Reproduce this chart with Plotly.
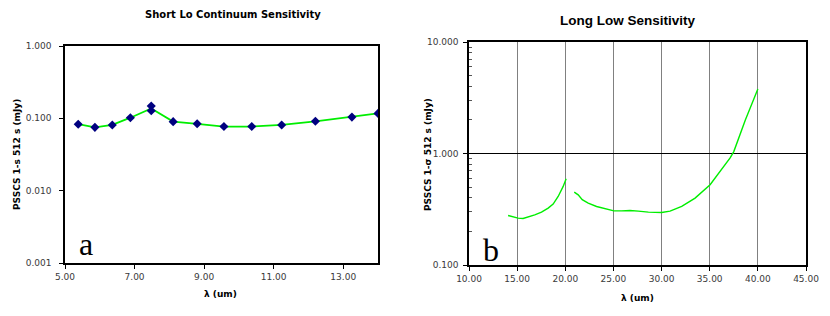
import plotly.graph_objects as go

W, H = 830, 316

# ---- data: left panel (Short Lo continuum) ----
sl_wave = [5.38, 5.86, 6.36, 6.88, 7.48, 7.48, 8.11, 8.80, 9.57, 10.37, 11.23, 12.20, 13.25, 14.0]
sl_sens = [0.083, 0.075, 0.081, 0.102, 0.148, 0.127, 0.090, 0.084, 0.077, 0.077, 0.081, 0.091, 0.104, 0.117]
sl_line_wave = [5.38, 5.86, 6.36, 6.88, 7.48, 8.11, 8.80, 9.57, 10.37, 11.23, 12.20, 13.25, 14.0]
sl_line_sens = [0.083, 0.075, 0.081, 0.102, 0.137, 0.090, 0.084, 0.077, 0.077, 0.081, 0.091, 0.104, 0.117]

# ---- data: right panel (Long Low) ----
ll1_wave = [14.06, 14.58, 15.10, 15.62, 16.14, 16.83, 17.53, 18.22, 18.74, 19.26, 19.78, 20.09]
ll1_sens = [0.278, 0.270, 0.263, 0.261, 0.268, 0.282, 0.298, 0.324, 0.352, 0.412, 0.507, 0.594]
ll2_wave = [20.93, 21.34, 21.76, 22.38, 23.25, 24.12, 25.05, 25.85, 26.72, 27.59, 28.63, 30.01,
            30.88, 32.09, 33.48, 35.04, 36.08, 37.12, 37.5, 38.7, 40.0]
ll2_sens = [0.451, 0.426, 0.385, 0.359, 0.335, 0.319, 0.306, 0.306, 0.308, 0.304, 0.298, 0.296,
            0.304, 0.335, 0.398, 0.525, 0.692, 0.912, 1.04, 2.0, 3.79]

left_xticks = [5, 7, 9, 11, 13]
left_xtext = ["5.00", "7.00", "9.00", "11.00", "13.00"]
left_yticks = [0.001, 0.01, 0.1, 1]
left_ytext = ["0.001", "0.010", "0.100", "1.000"]
right_xticks = [10, 15, 20, 25, 30, 35, 40, 45]
right_xtext = ["10.00", "15.00", "20.00", "25.00", "30.00", "35.00", "40.00", "45.00"]
right_yticks = [0.1, 1, 10]
right_ytext = ["0.100", "1.000", "10.000"]

GREEN = "#00ee00"
NAVY = "#000080"
TXT = "#3a3a3a"
FONT = "DejaVu Sans, Liberation Sans, sans-serif"
FONT2 = "Liberation Sans, Arial, sans-serif"

def px_x(p):
    return p / W

def px_y(p):
    return 1 - p / H

fig = go.Figure()

fig.add_trace(go.Scatter(x=sl_line_wave, y=sl_line_sens, mode="lines",
                         line=dict(color=GREEN, width=1.8), xaxis="x", yaxis="y",
                         showlegend=False, hoverinfo="skip"))
fig.add_trace(go.Scatter(x=sl_wave, y=sl_sens, mode="markers",
                         marker=dict(symbol="diamond", color=NAVY, size=7),
                         xaxis="x", yaxis="y", showlegend=False))
fig.add_trace(go.Scatter(x=ll1_wave, y=ll1_sens, mode="lines", line=dict(color=GREEN, width=1.4),
                         xaxis="x2", yaxis="y2", showlegend=False))
fig.add_trace(go.Scatter(x=ll2_wave, y=ll2_sens, mode="lines", line=dict(color=GREEN, width=1.4),
                         xaxis="x2", yaxis="y2", showlegend=False))

tickfont = dict(family=FONT, size=9, color=TXT)

common = dict(automargin=False, zeroline=False, tickfont=tickfont, showline=True, mirror=True,
              linecolor="black", linewidth=1.5, tickcolor="black", ticks="outside", ticklen=4)

fig.update_layout(
    template="none",
    width=W, height=H,
    margin=dict(l=0, r=0, t=0, b=0),
    paper_bgcolor="white", plot_bgcolor="white",
    xaxis=dict(domain=[px_x(65), px_x(378)], range=[5, 14], tickvals=left_xticks,
               ticktext=left_xtext, showgrid=False, anchor="y", **common),
    yaxis=dict(domain=[px_y(263), px_y(46)], type="log", range=[-3, 0],
               tickvals=left_yticks, ticktext=left_ytext, showgrid=False, anchor="x",
               ticklabelstandoff=6, **common),
    xaxis2=dict(domain=[px_x(469), px_x(806)], range=[10, 45], tickvals=right_xticks,
                ticktext=right_xtext, showgrid=True, gridcolor="#808080", gridwidth=1,
                anchor="y2", **common),
    yaxis2=dict(domain=[px_y(265), px_y(42)], type="log", range=[-1, 1],
                tickvals=right_yticks, ticktext=right_ytext, showgrid=True,
                gridcolor="black", gridwidth=1, anchor="x2", ticklabelstandoff=3,
                minor=dict(ticks="inside", ticklen=3, tickcolor="#555555", showgrid=False,
                           tickvals=[0.2, 0.3, 0.4, 0.5, 0.6, 0.7, 0.8, 0.9,
                                     2, 3, 4, 5, 6, 7, 8, 9]),
                **common),
)

ann = [
    dict(text="<b>Short Lo Continuum Sensitivity</b>", x=233, y=14, size=10, fam=FONT),
    dict(text="<b>Long Low Sensitivity</b>", x=627, y=20, size=13.5, fam=FONT2),
    dict(text="<b>λ (um)</b>", x=220, y=294, size=9, fam=FONT),
    dict(text="<b>λ (um)</b>", x=637, y=298, size=9, fam=FONT),
]
for a in ann:
    fig.add_annotation(text=a["text"], x=px_x(a["x"]), y=px_y(a["y"]), xref="paper", yref="paper",
                       showarrow=False, xanchor="center", yanchor="middle",
                       font=dict(family=a["fam"], size=a["size"], color="black"))

for txt, xx in [("<b>PSSCS 1-s 512 s (mJy)</b>", 17), ("<b>PSSCS 1-σ 512 s (mJy)</b>", 428)]:
    fig.add_annotation(text=txt, x=px_x(xx), y=px_y(155), xref="paper", yref="paper",
                       showarrow=False, textangle=-90, xanchor="center", yanchor="middle",
                       font=dict(family=FONT, size=9, color="black"))

for letter, xx, yy in [("a", 86, 244), ("b", 491, 250)]:
    fig.add_annotation(text=letter, x=px_x(xx), y=px_y(yy), xref="paper", yref="paper",
                       showarrow=False, xanchor="center", yanchor="middle",
                       font=dict(family="Liberation Serif, Times New Roman, serif", size=32,
                                 color="black"))

fig.write_html("out.html", config={"displayModeBar": False},
               post_script="document.body.style.margin='0';")
